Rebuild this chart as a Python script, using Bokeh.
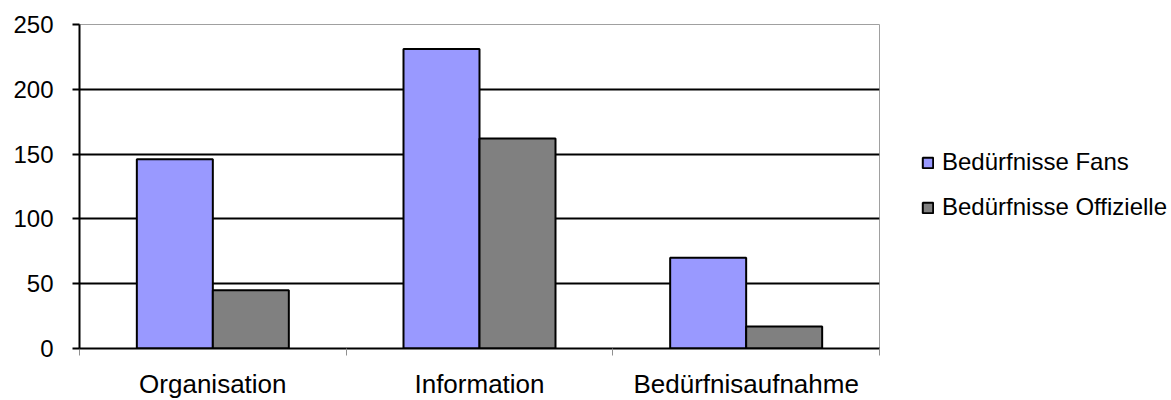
import numpy as np
from bokeh.plotting import figure
from bokeh.layouts import row
from bokeh.models import ColumnDataSource, Range1d, FixedTicker, Legend, LegendItem
from bokeh.transform import dodge
from bokeh.embed import file_html
from bokeh.resources import INLINE

categories = ["Organisation", "Information", "Bedürfnisaufnahme"]
fans = [146, 231, 70]
offizielle = [45, 162, 17]
series_names = ["Bedürfnisse Fans", "Bedürfnisse Offizielle"]
series_colors = ["#9999FF", "#808080"]
y_ticks = [0, 50, 100, 150, 200, 250]

FONT = "Liberation Sans"

src = ColumnDataSource(dict(
    x=np.arange(len(categories)) + 0.5,
    fans=fans,
    off=offizielle,
))

p = figure(frame_width=800, frame_height=324, output_backend="svg", toolbar_location=None,
           x_range=Range1d(0, len(categories)), y_range=Range1d(0, 250),
           min_border_left=79, min_border_top=24, min_border_bottom=52,
           min_border_right=1)
p.background_fill_color = "white"
p.border_fill_color = "white"
p.outline_line_color = "#a0a0a0"
p.outline_line_width = 1

bw = 0.285
r1 = p.vbar(x=dodge("x", -bw / 2, range=p.x_range), top="fans", width=bw, bottom=0,
            source=src, fill_color=series_colors[0], line_color="black", line_width=2)
r2 = p.vbar(x=dodge("x", bw / 2, range=p.x_range), top="off", width=bw, bottom=0,
            source=src, fill_color=series_colors[1], line_color="black", line_width=2)

# grid
p.xgrid.grid_line_color = None
p.ygrid.ticker = FixedTicker(ticks=y_ticks)
p.ygrid.grid_line_color = "black"
p.ygrid.grid_line_width = 2

# y axis
ya = p.yaxis[0]
ya.ticker = FixedTicker(ticks=y_ticks)
ya.axis_line_color = "black"
ya.axis_line_width = 2
ya.major_tick_line_color = "black"
ya.major_tick_line_width = 2
ya.major_tick_out = 7
ya.major_tick_in = 0
ya.minor_tick_line_color = None
ya.major_label_standoff = 19
ya.major_label_text_font = FONT
ya.major_label_text_font_size = "24px"
ya.major_label_text_color = "black"

# x axis
xa = p.xaxis[0]
xa.ticker = FixedTicker(ticks=list(np.arange(len(categories)) + 0.5),
                        minor_ticks=list(range(len(categories) + 1)))
xa.major_label_overrides = {float(i + 0.5): c for i, c in enumerate(categories)}
xa.axis_line_color = "black"
xa.axis_line_width = 2
xa.major_tick_out = 0
xa.major_tick_in = 0
xa.major_tick_line_color = None
xa.minor_tick_out = 7
xa.minor_tick_in = 0
xa.minor_tick_line_color = "#909090"
xa.minor_tick_line_width = 1
xa.major_label_standoff = 13
xa.major_label_text_font = FONT
xa.major_label_text_font_size = "26px"
xa.major_label_text_color = "black"

# legend panel (separate figure to the right of the chart); its proxy bars
# use the same data but are hidden, only their legend entries are shown
lp = figure(width=291, height=400, output_backend="svg", toolbar_location=None,
            x_axis_type=None, y_axis_type=None,
            x_range=Range1d(0, len(categories)), y_range=Range1d(-1000, -999), min_border=0)
lp.outline_line_color = None
lp.grid.visible = False
lp.background_fill_color = "white"
lp.border_fill_color = "white"
lr = [lp.vbar(x="x", top=col, width=bw, bottom=0, source=src, fill_color=c,
              line_color="black", line_width=2, visible=False)
      for col, c in zip(["fans", "off"], series_colors)]

legend = Legend(items=[LegendItem(label=n, renderers=[r]) for n, r in zip(series_names, lr)],
                location=(41, 126), orientation="vertical", click_policy="none")
legend.margin = 0
legend.padding = 0
legend.border_line_alpha = 0
legend.background_fill_alpha = 0
legend.glyph_width = 13
legend.glyph_height = 13
legend.label_standoff = 8
legend.label_height = 25
legend.spacing = 17
legend.label_text_font = FONT
legend.label_text_font_size = "24px"
legend.label_text_color = "black"
lp.add_layout(legend, "center")

layout = row(p, lp, spacing=0)
open("out.html", "w").write(file_html(layout, INLINE))
